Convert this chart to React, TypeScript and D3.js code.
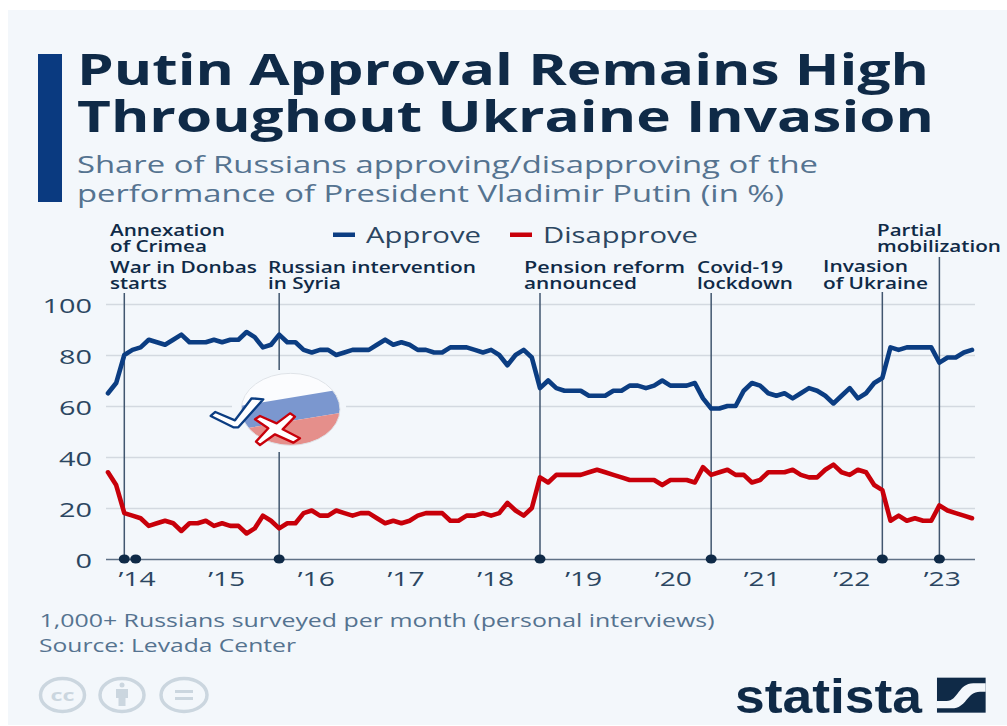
import { useEffect, useRef } from 'react'
import * as d3 from 'd3'

// one value per survey (Levada skips January, so 11 per year)
const approve = [65, 69, 80, 82, 83, 86, 85, 84, 86, 88, 85, 85, 85, 86, 85, 86, 86, 89, 87, 83, 84, 88, 85, 85, 82, 81, 82, 82, 80, 81, 82, 82, 82, 84, 86, 84, 85, 84, 82, 82, 81, 81, 83, 83, 83, 82, 81, 82, 80, 76, 80, 82, 79, 67, 70, 67, 66, 66, 66, 64, 64, 64, 66, 66, 68, 68, 67, 68, 70, 68, 68, 68, 69, 63, 59, 59, 60, 60, 66, 69, 68, 65, 64, 65, 63, 65, 67, 66, 64, 61, 64, 67, 63, 65, 69, 71, 83, 82, 83, 83, 83, 83, 77, 79, 79, 81, 82]
const disapprove = [34, 29, 18, 17, 16, 13, 14, 15, 14, 11, 14, 14, 15, 13, 14, 13, 13, 10, 12, 17, 15, 12, 14, 14, 18, 19, 17, 17, 19, 18, 17, 18, 18, 16, 14, 15, 14, 15, 17, 18, 18, 18, 15, 15, 17, 17, 18, 17, 18, 22, 19, 17, 20, 32, 30, 33, 33, 33, 33, 34, 35, 34, 33, 32, 31, 31, 31, 31, 29, 31, 31, 31, 30, 36, 33, 34, 35, 33, 33, 30, 31, 34, 34, 34, 35, 33, 32, 32, 35, 37, 34, 33, 35, 34, 29, 27, 15, 17, 15, 16, 15, 15, 21, 19, 18, 17, 16]

const yTicks = [0, 20, 40, 60, 80, 100]
const yearLabels = ['’14', '’15', '’16', '’17', '’18', '’19', '’20', '’21', '’22', '’23']
const yearPositions = [3.5, 14.5, 25.5, 36.5, 47.5, 58.3, 69.3, 80.2, 91.2, 102.3]

// survey index of each event, and where its line starts
const eventPositions = [2, 3.4, 21, 53, 74, 95, 102]
const eventLineTops = [293, 559, 293, 293, 293, 292, 257]

const FONT = '"Open Sans", sans-serif'
const NAVY = '#0f2a47'
const SLATE = '#557390'
const AXIS_TEXT = '#2b4661'
const BG = '#f3f7fb'
const BLUE = '#0b3d82'
const RED = '#c8000a'

// the original picture is stretched sideways, so every text gets its measured width
function T({ x, y, w, size, weight = 400, fill = NAVY, children }: any) {
  return (
    <text x={x} y={y} textLength={w} lengthAdjust="spacingAndGlyphs" fontFamily={FONT} fontSize={size} fontWeight={weight} fill={fill}>
      {children}
    </text>
  )
}

const notes: [string, number, number, number][] = [
  ['Annexation', 110, 236, 115],
  ['of Crimea', 110, 252, 97],
  ['War in Donbas', 110, 273, 147],
  ['starts', 110, 289, 57],
  ['Russian intervention', 268, 273, 208],
  ['in Syria', 268, 289, 73],
  ['Pension reform', 524, 273, 161],
  ['announced', 524, 289, 113],
  ['Covid-19', 697, 273, 86],
  ['lockdown', 697, 289, 96],
  ['Invasion', 823, 272, 85],
  ['of Ukraine', 823, 289, 105],
  ['Partial', 877, 236, 65],
  ['mobilization', 877, 252, 124],
]

export default function App() {
  const chartRef = useRef<SVGGElement>(null)

  useEffect(() => {
    if (!chartRef.current) return
    const g = d3.select(chartRef.current)
    g.selectAll('*').remove()

    const x = d3.scaleLinear().domain([0, approve.length - 1]).range([108, 972])
    const y = d3.scaleLinear().domain([0, 100]).range([559, 304])

    // 网格
    const yAxis = g.append('g')
      .attr('transform', 'translate(106,0)')
      .call(d3.axisLeft(y).tickValues(yTicks).tickSize(-869).tickPadding(14))
    yAxis.select('.domain').remove()
    yAxis.selectAll('line')
      .attr('stroke', (d: any) => (d === 0 ? '#5f7186' : '#d3d9e0'))
      .attr('stroke-width', 1.5)
    yAxis.selectAll('text')
      .attr('font-family', FONT)
      .attr('font-size', 20)
      .attr('fill', AXIS_TEXT)
      .attr('dy', '0.42em')
      .attr('textLength', (d: any) => String(d).length * 16.5)
      .attr('lengthAdjust', 'spacingAndGlyphs')

    const xAxis = g.append('g')
      .attr('transform', 'translate(0,559)')
      .call(
        d3.axisBottom(x)
          .tickValues(yearPositions)
          .tickSize(0)
          .tickPadding(13)
          .tickFormat((_, i) => yearLabels[i])
      )
    xAxis.select('.domain').remove()
    xAxis.selectAll('text')
      .attr('font-family', FONT)
      .attr('font-size', 20)
      .attr('fill', AXIS_TEXT)
      .attr('textLength', 37)
      .attr('lengthAdjust', 'spacingAndGlyphs')

    // 事件线
    eventPositions.forEach((p, i) => {
      g.append('line')
        .attr('x1', x(p))
        .attr('x2', x(p))
        .attr('y1', eventLineTops[i])
        .attr('y2', y(0))
        .attr('stroke', '#41566f')
        .attr('stroke-width', 1.5)
      g.append('ellipse')
        .attr('cx', x(p))
        .attr('cy', y(0))
        .attr('rx', 5.5)
        .attr('ry', 4.5)
        .attr('fill', NAVY)
    })

    const line = d3.line<number>()
      .x((_, i) => x(i))
      .y(d => y(d))

    const series: [number[], string][] = [[approve, BLUE], [disapprove, RED]]
    series.forEach(([values, color]) => {
      g.append('path')
        .datum(values)
        .attr('fill', 'none')
        .attr('stroke', color)
        .attr('stroke-width', 4.6)
        .attr('stroke-linejoin', 'round')
        .attr('stroke-linecap', 'round')
        .attr('d', line)
    })
  }, [])

  return (
    <svg width={1007} height={726} style={{ position: 'absolute', left: 0, top: 0, display: 'block' }}>
      <rect x={8} y={10} width={999} height={715} fill={BG} />
      <rect x={38} y={54} width={24} height={148} fill="#0a3a80" />

      <T x={77} y={85} w={852} size={43} weight={700}>Putin Approval Remains High</T>
      <T x={77} y={132} w={857} size={43} weight={700}>Throughout Ukraine Invasion</T>
      <T x={77} y={173} w={741} size={24.5} fill={SLATE}>Share of Russians approving/disapproving of the</T>
      <T x={77} y={201.5} w={707} size={24.5} fill={SLATE}>performance of President Vladimir Putin (in %)</T>

      <g ref={chartRef} />

      {notes.map(([label, x, y, w]) => (
        <T key={label} x={x} y={y} w={w} size={15.5} weight={600}>{label}</T>
      ))}

      {/* 图例 */}
      <rect x={333} y={232.5} width={22} height={4.5} fill={BLUE} />
      <T x={366} y={243} w={115} size={22} fill={AXIS_TEXT}>Approve</T>
      <rect x={510} y={232.5} width={22} height={4.5} fill={RED} />
      <T x={543} y={243} w={155} size={22} fill={AXIS_TEXT}>Disapprove</T>

      {/* flag badge, coordinates are in 3x picture space */}
      <rect x={232} y={370} width={114} height={82} fill={BG} />
      <g transform="translate(100,290) scale(0.3333)">
        <clipPath id="flag">
          <ellipse cx={572} cy={358} rx={148} ry={108} />
        </clipPath>
        <g clipPath="url(#flag)">
          <rect x={420} y={245} width={305} height={225} fill="#fbfcfe" />
          <path d="M420 348 L725 298 V368 L420 418 Z" fill="#7b97cf" />
          <path d="M420 418 L725 368 V470 H420 Z" fill="#e58f8b" />
        </g>
        <ellipse cx={572} cy={358} rx={148} ry={108} fill="none" stroke="#dfe3e8" strokeWidth={3} />
        <path d="M332 378 L346 366 L405 391 L455 325 L490 328 L415 412 L400 412 Z" fill="#fff" stroke={BLUE} strokeWidth={7} strokeLinejoin="round" />
        <path d="M480 378 L530 400 L570 370 L585 380 L548 418 L600 445 L580 458 L525 433 L480 465 L468 455 L505 415 L465 388 Z" fill="#fff" stroke={RED} strokeWidth={7} strokeLinejoin="round" />
      </g>

      <T x={39.5} y={626.5} w={675} size={18} fill={SLATE}>1,000+ Russians surveyed per month (personal interviews)</T>
      <T x={39} y={651.5} w={257} size={18} fill={SLATE}>Source: Levada Center</T>

      {/* 授权图标 */}
      <g fill="none" stroke="#cbd6df" strokeWidth={3.5}>
        <ellipse cx={62.5} cy={695} rx={22} ry={16.5} />
        <ellipse cx={122} cy={695} rx={22} ry={16.5} />
        <ellipse cx={184} cy={695} rx={23} ry={16.5} />
      </g>
      <text x={62.5} y={701} textAnchor="middle" textLength={24} lengthAdjust="spacingAndGlyphs" fontFamily={FONT} fontSize={16} fontWeight={700} fill="#cbd6df">cc</text>
      <g fill="#cbd6df">
        <circle cx={122} cy={685} r={2.5} />
        <rect x={116} y={689} width={12} height={9} />
        <rect x={118.5} y={696} width={7} height={10} />
        <rect x={175} y={690} width={18} height={3} />
        <rect x={175} y={697} width={18} height={3} />
      </g>

      {/* logo, coordinates are in 3x picture space */}
      <text x={735} y={712.5} textLength={187} lengthAdjust="spacingAndGlyphs" fontFamily='"Liberation Sans", sans-serif' fontSize={49} fontWeight={700} fill={NAVY}>statista</text>
      <g transform="translate(725,665) scale(0.3333)">
        <rect x={636} y={38} width={146} height={105} fill={NAVY} />
        <path d="M636 108 H665 C700 108 700 55 745 55 H782 V80 H765 C725 80 725 130 680 130 H636 Z" fill={BG} />
      </g>
    </svg>
  )
}
